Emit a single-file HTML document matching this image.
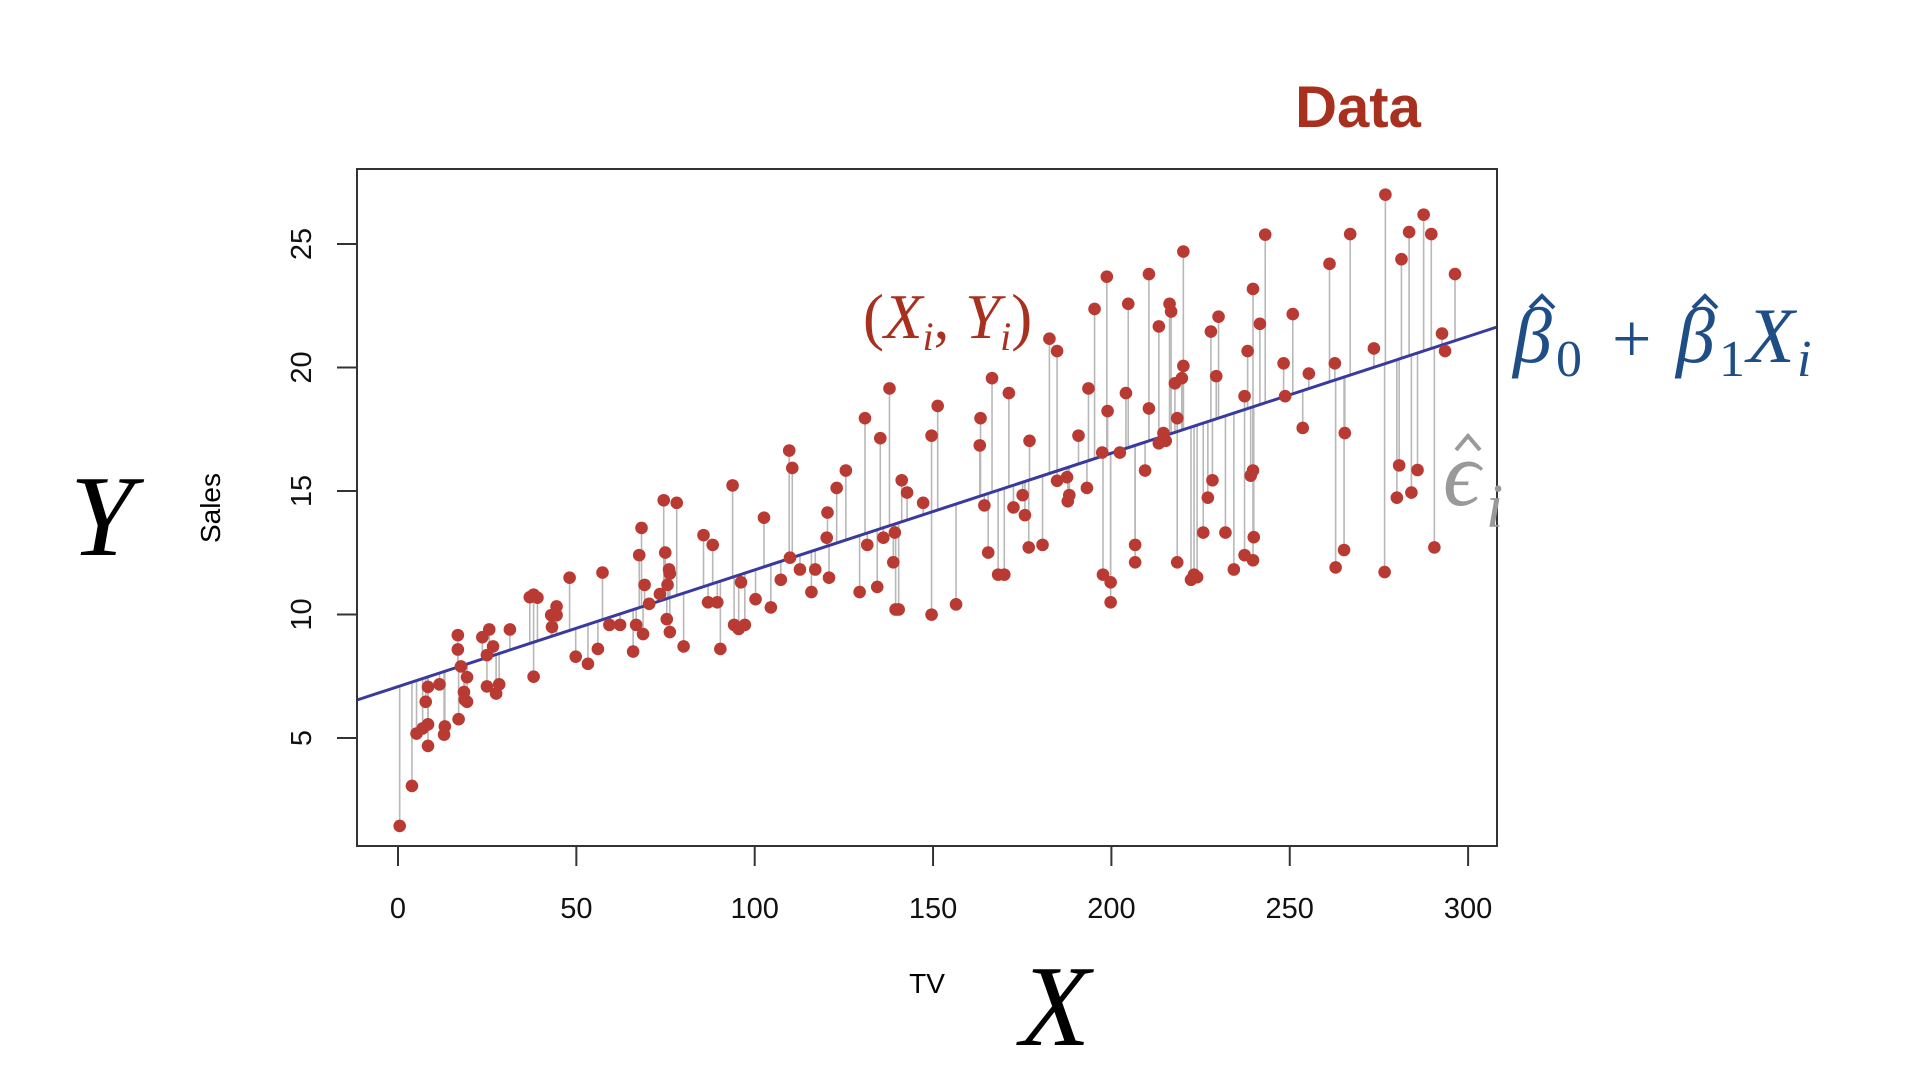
<!DOCTYPE html>
<html><head><meta charset="utf-8"><style>
html,body{margin:0;padding:0;background:#fff;width:1920px;height:1080px;overflow:hidden}
svg{display:block}
</style></head><body>
<svg id="s" width="1920" height="1080" xmlns="http://www.w3.org/2000/svg">
<rect width="1920" height="1080" fill="#fff"/>
<g id="res" stroke="#b8b8b8" stroke-width="1.6"></g>
<line x1="357" y1="700" x2="1497" y2="327" stroke="#3a3a9e" stroke-width="3"/>
<g id="pts" fill="#b83a32"></g>
<rect x="357" y="169" width="1140" height="677" fill="none" stroke="#333" stroke-width="2"/>
<g stroke="#333" stroke-width="2" id="ticks"></g>
<g font-family="Liberation Sans, sans-serif" font-size="29" fill="#111" id="labels"></g>
<text x="220" y="508" transform="rotate(-90 220 508)" text-anchor="middle" font-family="Liberation Sans, sans-serif" font-size="28">Sales</text>
<text x="927" y="993" text-anchor="middle" font-family="Liberation Sans, sans-serif" font-size="28">TV</text>
<text x="1358" y="127" text-anchor="middle" font-family="Liberation Sans, sans-serif" font-weight="bold" font-size="58" fill="#a8301f">Data</text>
<text x="70" y="555" font-family="Liberation Serif, serif" font-style="italic" font-size="115">Y</text>
<text x="1020" y="1045" font-family="Liberation Serif, serif" font-style="italic" font-size="115">X</text>
<text x="863" y="338" font-family="Liberation Serif, serif" font-size="63" fill="#a8301f">(<tspan font-style="italic">X</tspan><tspan font-style="italic" font-size="40" dy="12">i</tspan><tspan dy="-12">, </tspan><tspan font-style="italic">Y</tspan><tspan font-style="italic" font-size="40" dy="12">i</tspan><tspan dy="-12">)</tspan></text>
<g font-family="Liberation Serif, serif" fill="#1f4e87">
<text x="1513" y="362" font-size="78" font-style="italic">β</text>
<text x="1556" y="376" font-size="52">0</text>
<text x="1612" y="362" font-size="70">+</text>
<text x="1676" y="362" font-size="78" font-style="italic">β</text>
<text x="1719" y="376" font-size="52">1</text>
<text x="1747" y="362" font-size="78" font-style="italic">X</text>
<text x="1797" y="376" font-size="52" font-style="italic">i</text>
</g>
<g fill="none" stroke="#1f4e87" stroke-width="4">
<polyline points="1530,308 1542,296 1554,308"/>
<polyline points="1693,308 1705,296 1717,308"/>
</g>
<text x="1443" y="505" font-family="Liberation Serif, serif" font-style="italic" font-size="92" fill="#999">ϵ</text>
<text x="1486" y="527" font-family="Liberation Serif, serif" font-style="italic" font-size="62" fill="#999">i</text>
<polyline points="1456,450 1468,436 1480,450" fill="none" stroke="#999" stroke-width="4"/>
</svg>
<script>
var P=[[78,1318],[94,1240],[100,1138],[108,1128],[112,1076],[115,1047],[115,1120],[115,1162],[130,1042],[136,1140],[137,1124],[154,946],[154,974],[155,1110],[158,1007],[162,1057],[163,1072],[166,1028],[166,1076],[186,950],[192,985],[192,1046],[195,935],[200,968],[204,1060],[208,1042],[222,935],[248,872],[253,867],[258,873],[253,1027],[276,907],[277,930],[283,890],[283,907],[300,834],[308,988],[324,1002],[337,973],[343,824],[352,926],[366,926],[383,978],[387,926],[391,790],[394,737],[396,944],[398,848],[404,885],[418,866],[423,683],[425,785],[427,915],[428,848],[430,818],[431,940],[431,826],[440,688],[449,968],[475,751],[481,882],[487,770],[493,882],[497,973],[513,654],[515,926],[521,934],[524,843],[529,926],[543,876],[554,717],[563,892],[576,838],[587,586],[588,795],[591,620],[601,818],[616,862],[621,818],[636,756],[637,707],[639,834],[649,659],[661,625],[679,862],[686,523],[689,770],[702,852],[706,562],[710,756],[718,465],[723,804],[725,746],[726,896],[730,896],[734,644],[741,668],[762,688],[773,557],[773,906],[781,499],[805,886],[836,576],[837,523],[842,693],[847,785],[852,445],[860,828],[868,828],[874,474],[880,697],[892,673],[895,712],[900,775],[901,567],[918,770],[927,368],[937,392],[937,645],[950,638],[951,685],[953,673],[965,557],[976,659],[978,465],[986,310],[996,590],[997,828],[1002,247],[1003,509],[1007,843],[1007,882],[1019,590],[1027,474],[1030,300],[1039,770],[1039,804],[1052,625],[1057,242],[1057,504],[1070,344],[1070,572],[1076,552],[1079,567],[1084,300],[1086,315],[1091,455],[1094,523],[1094,804],[1100,445],[1102,421],[1102,198],[1112,838],[1116,828],[1120,833],[1128,746],[1134,678],[1138,354],[1140,644],[1145,441],[1148,325],[1157,746],[1168,818],[1182,790],[1182,480],[1186,392],[1190,635],[1193,625],[1193,271],[1194,755],[1193,800],[1202,339],[1209,165],[1233,416],[1235,480],[1245,320],[1258,542],[1266,436],[1293,222],[1300,416],[1301,814],[1312,780],[1313,552],[1320,164],[1351,387],[1365,823],[1366,87],[1381,678],[1384,615],[1387,213],[1397,160],[1400,668],[1408,624],[1416,126],[1426,164],[1430,775],[1440,358],[1444,392],[1457,242]];
var NS="http://www.w3.org/2000/svg";
function el(t,a,p){var e=document.createElementNS(NS,t);for(var k in a)e.setAttribute(k,a[k]);document.getElementById(p).appendChild(e);return e;}
function ly(x){return 700+(x-357)*(327-700)/(1497-357);}
P.forEach(function(p){var x=340+p[0]/1.3067,y=150+p[1]/1.95;
el("line",{x1:x,y1:y,x2:x,y2:ly(x)},"res");
el("circle",{cx:x,cy:y,r:6.3},"pts");});
for(var v=0;v<=300;v+=50){var x=398+v*3.567;el("line",{x1:x,y1:846,x2:x,y2:866},"ticks");
var t=el("text",{x:x,y:918,"text-anchor":"middle"},"labels");t.textContent=v;}
for(var v=5;v<=25;v+=5){var y=738-(v-5)*24.7;el("line",{x1:337,y1:y,x2:357,y2:y},"ticks");
var t=el("text",{x:311,y:y,"text-anchor":"middle",transform:"rotate(-90 311 "+y+")"},"labels");t.textContent=v;}
</script>
</body></html>
